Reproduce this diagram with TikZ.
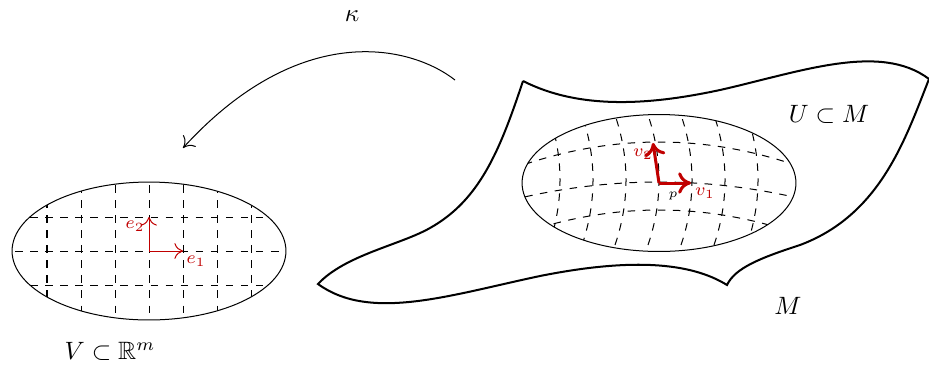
\documentclass[tikz,border=0pt]{standalone}
\usepackage{amssymb}
\usetikzlibrary{arrows.meta,positioning,calc}
\definecolor{vecred}{RGB}{192,0,0}

\begin{document}
\begin{tikzpicture}[
  x=0.014cm,y=-0.014cm,
  chart/.style={draw,thin},
  griddash/.style={dashed,thin},
  vec/.style={-{To[length=1.2mm,width=2.2mm]},vecred},
  vecbold/.style={-{To[length=1.8mm,width=3mm]},vecred,very thick},
  lab/.style={font=\scriptsize,text=vecred,inner sep=1pt},
  arr/.style={-{To[length=1.4mm,width=2.4mm]}}
]
  \useasboundingbox (0,0) rectangle (929,367);
  % Chart domain V
  \coordinate (o) at (149,251);
  \begin{scope}
    \clip (o) ellipse [x radius=1.918cm,y radius=0.966cm];
    \foreach \i in {-3,...,3}
      \draw[griddash] (149+34*\i,170) -- (149+34*\i,330);
    \foreach \j in {-1,0,1}
      \draw[griddash] (0,251+34*\j) -- (300,251+34*\j);
  \end{scope}
  \draw[chart] (o) ellipse [x radius=1.918cm,y radius=0.966cm];
  \coordinate (e1) at (183,251);
  \coordinate (e2) at (149,217);
  \draw[vec] (o) -- (e1);
  \draw[vec] (o) -- (e2);
  \node[lab] (le1) at (196,261) {$e_1$};
  \node[lab] (le2) at (135,226) {$e_2$};
  \node (V) at (110,351) {$V\subset\mathbb{R}^m$};
  % Manifold M
  \coordinate (tl) at (523,81);
  \coordinate (tr) at (929,79);
  \coordinate (br) at (727,285);
  \coordinate (bl) at (318,284);
  \draw[thick] (tl) .. controls (580,110) and (650,105) .. (720,90)
    .. controls (800,72) and (880,42) .. (tr)
    .. controls (905,140) and (880,215) .. (800,245)
    .. controls (760,258) and (735,268) .. (br)
    .. controls (690,262) and (630,258) .. (540,276)
    .. controls (450,295) and (370,322) .. (bl)
    .. controls (345,255) and (400,245) .. (430,228)
    .. controls (480,200) and (500,150) .. (tl);
  \node (M) at (788,306) {$M$};
  % Open set U with curved chart grid
  \coordinate (p) at (659,183);
  \begin{scope}
    \clip (p) ellipse [x radius=1.918cm,y radius=0.959cm];
    \foreach \c/\k in {142/1.35,182/0.9,210/1.35}
      \draw[griddash] plot[domain=-4.5:4.5,samples=40]
        ({659+33*\x},{\c+\k*\x*\x});
    \foreach \u in {-3,...,3}
      \draw[griddash] plot[domain=105:260,samples=40]
        ({659+33*\u-10*((\x-180)/62)*((\x-180)/62)},\x);
  \end{scope}
  \draw[chart] (p) ellipse [x radius=1.918cm,y radius=0.959cm];
  \coordinate (v1) at (691,183);
  \coordinate (v2) at (653,143);
  \draw[vecbold] (p) -- (v1);
  \draw[vecbold] (p) -- (v2);
  \node[lab] (lv1) at (705,193) {$v_1$};
  \node[lab] (lv2) at (643,154) {$v_2$};
  \node[font=\tiny,inner sep=1pt] (lp) at (673,196) {$p$};
  \node (U) at (829,114) {$U\subset M$};
  % Chart map kappa
  \coordinate (ks) at (455,80);
  \coordinate (ke) at (183,148);
  \draw[arr] (ks) .. controls (410,45) and (300,20) .. (ke);
  \node (kappa) at (352,16) {$\kappa$};
\end{tikzpicture}
\end{document}
